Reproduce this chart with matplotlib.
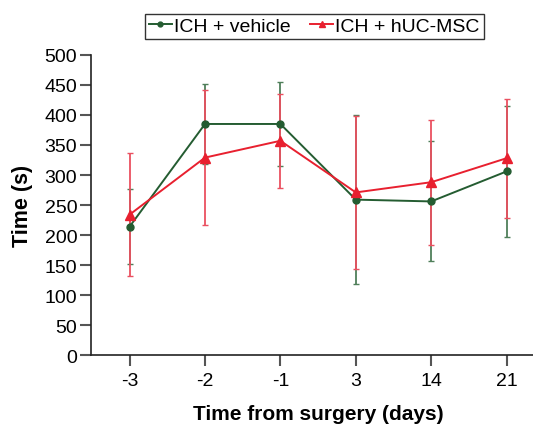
import numpy as np
import matplotlib.pyplot as plt

plt.rcParams['font.family'] = ['Liberation Sans', 'DejaVu Sans']

# 手術からの日数（カテゴリ）
days = ['-3', '-2', '-1', '3', '14', '21']

# ICH + vehicle
vehicle_mean = [214, 385, 385, 259, 256, 306]
vehicle_err = [63, 66, 70, 141, 100, 109]

# ICH + hUC-MSC
msc_mean = [234, 329, 357, 271, 288, 328]
msc_err = [102, 112, 78, 128, 104, 99]

green = '#245c31'
red = '#e8202f'

fig = plt.figure(figsize=(5.33, 4.27), dpi=100)
ax = fig.add_axes([0.171, 0.166, 0.829, 0.703])

x = np.arange(len(days))

# エラーバー（凡例には出さない）
ax.errorbar(x, vehicle_mean, yerr=vehicle_err, fmt='none', elinewidth=1.3, capsize=2,
            capthick=1.0, ecolor='#4f7f5a', zorder=2)
ax.errorbar(x, msc_mean, yerr=msc_err, fmt='none', elinewidth=1.3, capsize=2,
            capthick=1.0, ecolor='#ea5060', zorder=3)

# 平均値の線
ax.plot(x, vehicle_mean, color=green, marker='o', markersize=5, linewidth=1.4,
        label='ICH + vehicle', zorder=4)
ax.plot(x, msc_mean, color=red, marker='^', markersize=7, linewidth=1.4,
        label='ICH + hUC-MSC', zorder=5)

ax.set_xlim(-0.51, 5.35)
ax.set_ylim(0, 500)
ax.set_yticks(np.arange(0, 501, 50))
ax.set_xticks(x)
ax.set_xticklabels(days)

ax.spines['top'].set_visible(False)
ax.spines['right'].set_visible(False)
for s in ['left', 'bottom']:
    ax.spines[s].set_linewidth(1.2)
    ax.spines[s].set_color('#222222')
ax.tick_params(axis='both', labelsize=14, length=8, width=1.5, color='#555555', pad=2)
ax.tick_params(axis='x', pad=4)

ax.set_xlabel('Time from surgery (days)', fontsize=15, fontweight='bold')
ax.xaxis.set_label_coords(0.515, -0.162)
ax.set_ylabel('Time (s)', fontsize=15.5, fontweight='bold', labelpad=8)

leg = ax.legend(loc='lower center', bbox_to_anchor=(0.505, 1.053), ncol=2, fontsize=14,
                frameon=True, fancybox=False, edgecolor='black', handlelength=1.2,
                handletextpad=0.1, columnspacing=1.0, borderpad=0.2, borderaxespad=0,
                markerscale=0.7)
leg.get_frame().set_linewidth(1.0)

fig.savefig('out.png', dpi=100)
